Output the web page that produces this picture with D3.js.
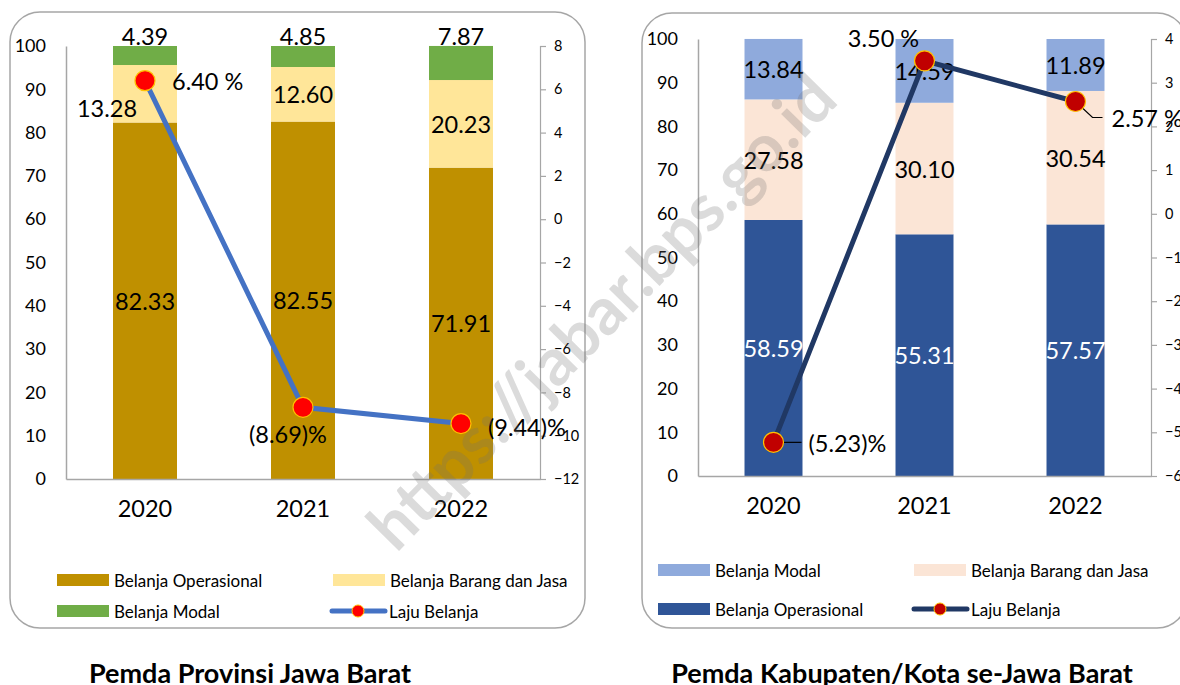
<!DOCTYPE html>
<html>
<head>
<meta charset="utf-8">
<script src="https://cdn.jsdelivr.net/npm/d3@7"></script>
<style>
  body { margin: 0; background: #fff; }
  text { font-family: Lato, "Open Sans", sans-serif; }
</style>
</head>
<body>
<svg id="chart" width="1180" height="685"></svg>
<script>
// data
const years = ["2020", "2021", "2022"]

const provOperasional = [82.33, 82.55, 71.91]
const provBarang = [13.28, 12.60, 20.23]
const provModal = [4.39, 4.85, 7.87]
const provLaju = [6.40, -8.69, -9.44]

const kabOperasional = [58.59, 55.31, 57.57]
const kabBarang = [27.58, 30.10, 30.54]
const kabModal = [13.84, 14.59, 11.89]
const kabLaju = [-5.23, 3.50, 2.57]

const shareTicks = [0, 10, 20, 30, 40, 50, 60, 70, 80, 90, 100]
const provLajuTicks = [-12, -10, -8, -6, -4, -2, 0, 2, 4, 6, 8]
const kabLajuTicks = [-6, -5, -4, -3, -2, -1, 0, 1, 2, 3, 4]

const seriesNames = ["Belanja Operasional", "Belanja Barang dan Jasa", "Belanja Modal", "Laju Belanja"]

let svg = d3.select("#chart")

const fmtLaju = (v) => v < 0 ? "(" + Math.abs(v).toFixed(2) + ")%" : v.toFixed(2) + " %"

const drawPanel = (p) => {
    let g = svg.append("g")

    // rounded frame
    g.append("rect")
        .attr("x", p.frame[0]).attr("y", p.frame[1])
        .attr("width", p.frame[2]).attr("height", p.frame[3])
        .attr("rx", 30).attr("ry", 30)
        .attr("fill", "none")
        .attr("stroke", "#a6a6a6")
        .attr("stroke-width", 1.5)

    let x = d3.scaleBand().domain(years).range([p.left, p.right])
        .paddingInner(p.pad).paddingOuter(p.pad / 2)
    let y = d3.scaleLinear().domain([0, 100]).range([p.bottom, p.top])
    let y2 = d3.scaleLinear().domain(p.lajuDomain).range([p.bottom, p.top])

    // stacked bars
    let rows = years.map((yr, i) => ({
        year: yr,
        operasional: p.operasional[i],
        barang: p.barang[i],
        modal: p.modal[i]
    }))
    let stack = d3.stack().keys(["operasional", "barang", "modal"])(rows)

    stack.forEach((layer) => {
        g.selectAll(null)
            .data(layer)
            .enter()
            .append("rect")
            .attr("x", (d) => x(d.data.year))
            .attr("width", x.bandwidth())
            .attr("y", (d) => y(d[1]))
            .attr("height", (d) => y(d[0]) - y(d[1]))
            .attr("fill", p.colors[layer.key])
    })

    // axes
    let axL = g.append("g")
        .attr("transform", "translate(" + p.left + ",0)")
        .call(d3.axisLeft(y).tickValues(shareTicks).tickSize(0).tickPadding(20))
    axL.select(".domain").attr("stroke", "#a6a6a6").attr("stroke-width", 1.5)
    axL.selectAll("text").attr("font-size", "18px").attr("fill", "#000")

    let axR = g.append("g")
        .attr("transform", "translate(" + p.right + ",0)")
        .call(d3.axisRight(y2).tickValues(p.lajuTicks).tickSize(6).tickPadding(8).tickSizeOuter(6))
    axR.selectAll(".domain, line").attr("stroke", "#a6a6a6").attr("stroke-width", 1.2)
    axR.selectAll("text").attr("font-size", "14.5px").attr("fill", "#000")

    let axB = g.append("g")
        .attr("transform", "translate(0," + p.bottom + ")")
        .call(d3.axisBottom(x).tickSize(0).tickPadding(21))
    axB.select(".domain").attr("stroke", "#a6a6a6").attr("stroke-width", 1.5)
    axB.selectAll("text").attr("font-size", "23.5px").attr("fill", "#000")

    // bar labels
    stack.forEach((layer) => {
        g.selectAll(null)
            .data(layer)
            .enter()
            .append("text")
            .attr("x", (d, i) => x(d.data.year) + x.bandwidth() / 2 + p.labelShift[layer.key][i][0])
            .attr("y", (d, i) => (layer.key === "modal" && p.modalAbove ? y(d[1]) - 10 : (y(d[0]) + y(d[1])) / 2) + p.labelShift[layer.key][i][1])
            .attr("text-anchor", "middle")
            .attr("dominant-baseline", "central")
            .attr("font-size", "23.5px")
            .attr("fill", layer.key === "operasional" ? p.opTextColor : "#000")
            .text((d) => (d[1] - d[0]).toFixed(2))
    })

    // laju line
    let cx = (i) => x(years[i]) + x.bandwidth() / 2
    let line = d3.line().x((d, i) => cx(i)).y((d) => y2(d))
    g.append("path")
        .datum(p.laju)
        .attr("d", line)
        .attr("fill", "none")
        .attr("stroke", p.lineColor)
        .attr("stroke-width", 5)

    // leader lines
    p.leaders.forEach((pts, i) => {
        if (!pts) return
        let path = [[cx(i), y2(p.laju[i])]].concat(pts.map((q) => [cx(i) + q[0], y2(p.laju[i]) + q[1]]))
        g.append("path")
            .attr("d", d3.line()(path))
            .attr("fill", "none")
            .attr("stroke", "#000")
            .attr("stroke-width", 1.2)
    })

    g.selectAll(null)
        .data(p.laju)
        .enter()
        .append("circle")
        .attr("cx", (d, i) => cx(i))
        .attr("cy", (d) => y2(d))
        .attr("r", 10)
        .attr("fill", p.markerColor)
        .attr("stroke", "#ffc000")
        .attr("stroke-width", 1.2)

    g.selectAll(null)
        .data(p.laju)
        .enter()
        .append("text")
        .attr("x", (d, i) => cx(i) + p.lajuLabel[i][0])
        .attr("y", (d) => y2(d))
        .attr("dy", (d, i) => p.lajuLabel[i][1])
        .attr("text-anchor", (d, i) => p.lajuLabel[i][2])
        .attr("dominant-baseline", "central")
        .attr("font-size", "23.5px")
        .attr("fill", "#000")
        .text((d) => fmtLaju(d))

    // legend
    p.legend.forEach((it) => {
        let lg = g.append("g").attr("transform", "translate(" + it.x + "," + it.y + ")")
        if (it.key === "laju") {
            lg.append("line").attr("x1", 0).attr("x2", 53).attr("y1", 0).attr("y2", 0)
                .attr("stroke", p.lineColor).attr("stroke-width", 5).attr("stroke-linecap", "round")
            lg.append("circle").attr("cx", 26).attr("cy", 0).attr("r", 6)
                .attr("fill", p.markerColor).attr("stroke", "#ffc000").attr("stroke-width", 1)
        } else {
            lg.append("rect").attr("x", 0).attr("y", -6).attr("width", 52).attr("height", 12)
                .attr("fill", p.colors[it.key])
        }
        lg.append("text")
            .attr("x", 57).attr("y", 0)
            .attr("dominant-baseline", "central")
            .attr("font-size", "17px")
            .attr("fill", "#000")
            .text(it.name)
    })

    // title
    svg.append("text")
        .attr("x", p.titleX).attr("y", 683)
        .attr("text-anchor", "middle")
        .attr("font-size", "27px")
        .attr("font-weight", "bold")
        .attr("fill", "#000")
        .text(p.title)
}

drawPanel({
    frame: [10, 12, 575, 616],
    left: 66, right: 540, top: 46, bottom: 479, pad: 0.595,
    operasional: provOperasional, barang: provBarang, modal: provModal, laju: provLaju,
    lajuDomain: [-12, 8], lajuTicks: provLajuTicks,
    colors: { operasional: "#bf9000", barang: "#ffe699", modal: "#70ad47" },
    opTextColor: "#000",
    modalAbove: true,
    labelShift: {
        operasional: [[0, 0], [0, 0], [0, 0]],
        barang: [[-38, 14], [0, 0], [0, 0]],
        modal: [[0, 0], [0, 0], [0, 0]]
    },
    lineColor: "#4472c4",
    markerColor: "#ff0000",
    leaders: [null, null, null],
    lajuLabel: [[27, 0, "start"], [-15, 27, "middle"], [27, 3, "start"]],
    legend: [
        { key: "operasional", name: seriesNames[0], x: 57, y: 580 },
        { key: "barang", name: seriesNames[1], x: 333, y: 580 },
        { key: "modal", name: "Belanja Modal", x: 57, y: 611 },
        { key: "laju", name: seriesNames[3], x: 332, y: 611 }
    ],
    titleX: 250,
    title: "Pemda Provinsi Jawa Barat"
})

drawPanel({
    frame: [642, 13, 545, 615],
    left: 698, right: 1151, top: 39, bottom: 476, pad: 0.616,
    operasional: kabOperasional, barang: kabBarang, modal: kabModal, laju: kabLaju,
    lajuDomain: [-6, 4], lajuTicks: kabLajuTicks,
    colors: { operasional: "#2f5597", barang: "#fbe5d6", modal: "#8faadc" },
    opTextColor: "#fff",
    modalAbove: false,
    labelShift: {
        operasional: [[0, 0], [0, 0], [0, 0]],
        barang: [[0, 0], [0, 0], [0, 0]],
        modal: [[0, 0], [0, 0], [0, 0]]
    },
    lineColor: "#203864",
    markerColor: "#c00000",
    leaders: [[[28, 0]], null, [[17, 16], [27, 16]]],
    lajuLabel: [[35, 1, "start"], [-41, -23, "middle"], [36, 17, "start"]],
    legend: [
        { key: "modal", name: "Belanja Modal", x: 658, y: 570 },
        { key: "barang", name: seriesNames[1], x: 914, y: 570 },
        { key: "operasional", name: seriesNames[0], x: 658, y: 609 },
        { key: "laju", name: seriesNames[3], x: 914, y: 609 }
    ],
    titleX: 902,
    title: "Pemda Kabupaten/Kota se-Jawa Barat"
})

// watermark
svg.append("text")
    .attr("transform", "translate(600,310) rotate(-45.5)")
    .attr("text-anchor", "middle")
    .attr("dominant-baseline", "central")
    .attr("font-size", "66px")
    .attr("font-weight", "bold")
    .attr("font-family", "Lato, sans-serif")
    .attr("fill", "rgba(110,110,110,0.25)")
    .text("https://jabar.bps.go.id")
</script>
</body>
</html>
